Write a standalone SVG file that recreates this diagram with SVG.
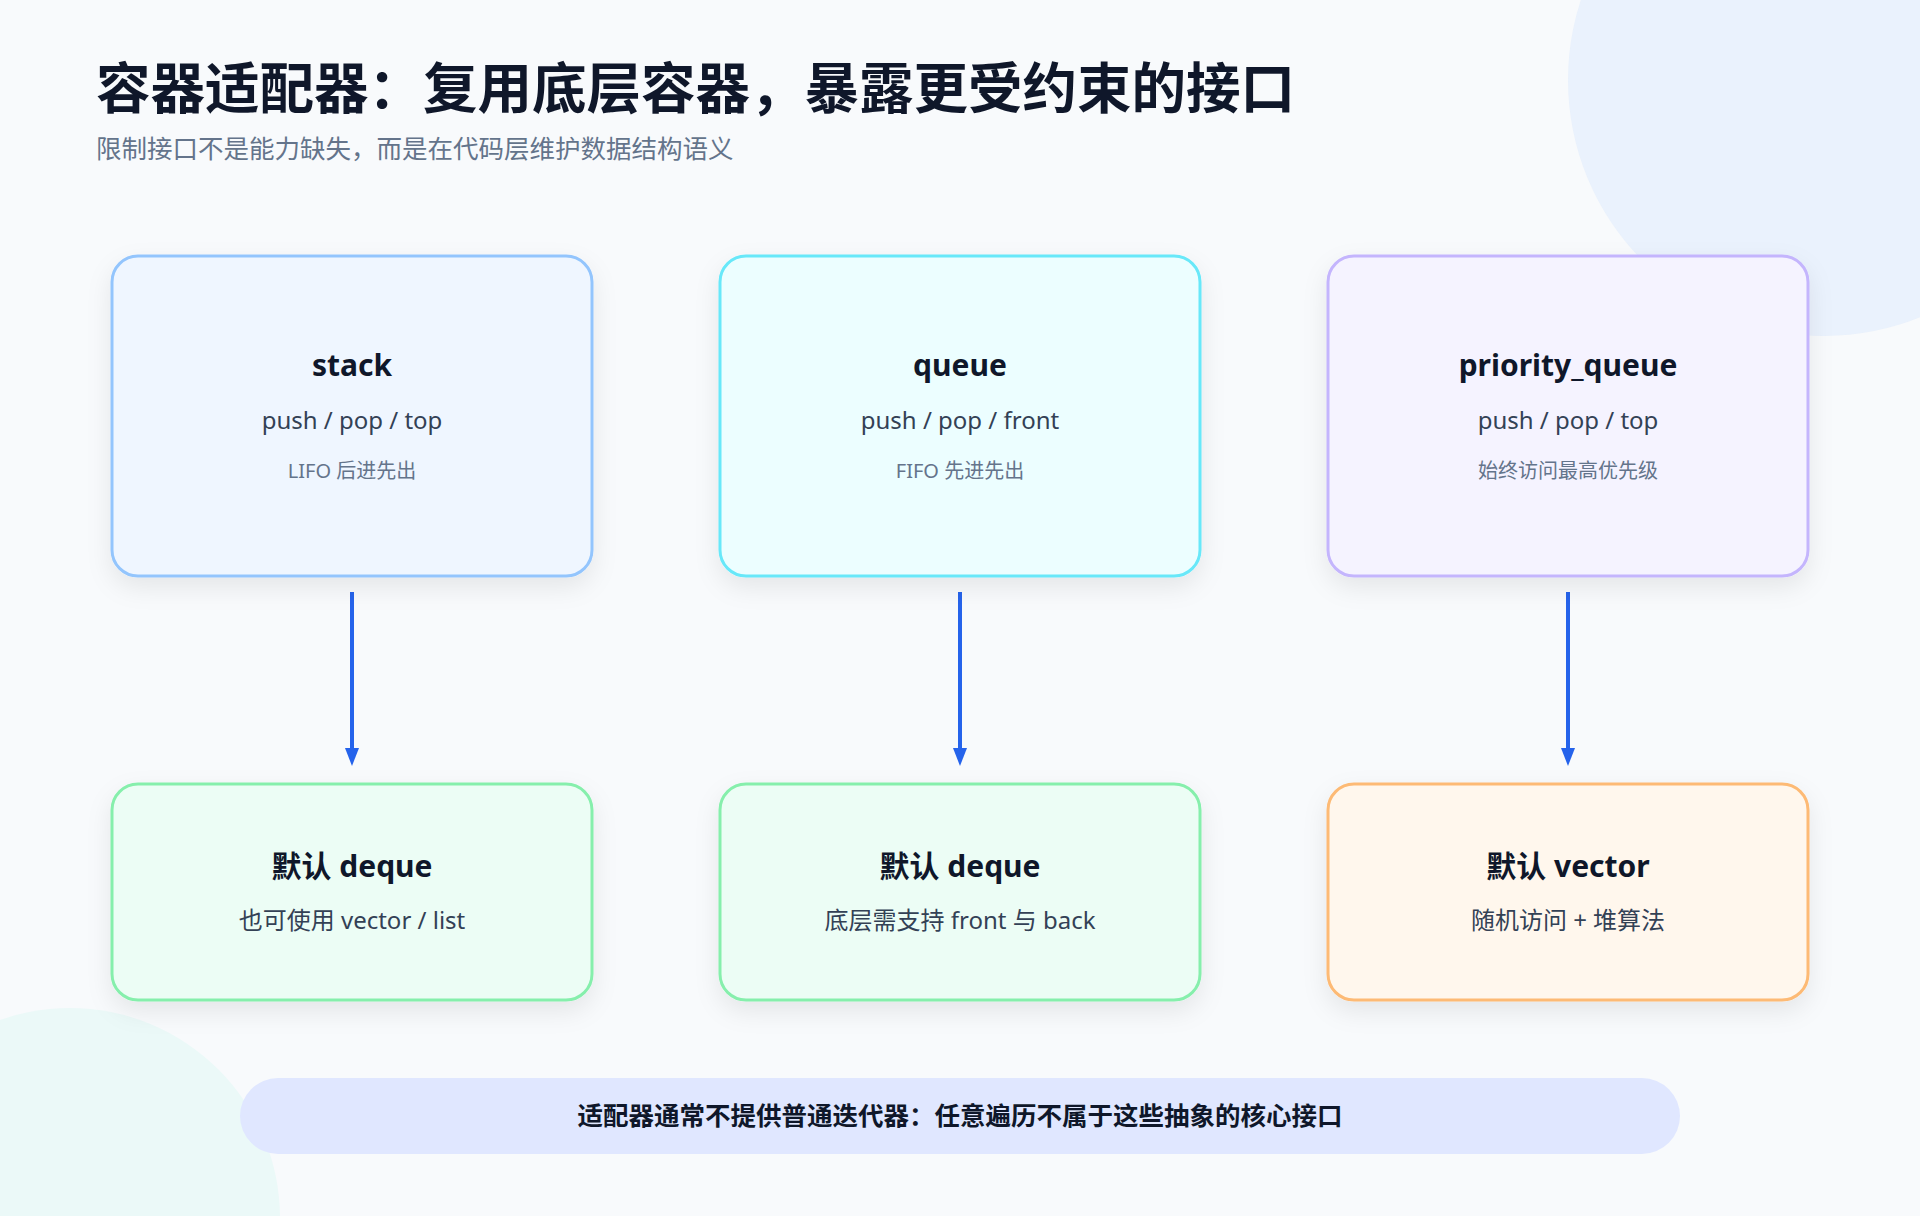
<svg xmlns="http://www.w3.org/2000/svg" width="1920" height="1216" viewBox="0 0 1920 1216">
<defs>
<style>
text{font-family:"Noto Sans","Noto Sans CJK SC",sans-serif;text-anchor:middle}
.h1{font-size:54.5px;font-weight:700;fill:#0f172a;text-anchor:start}
.h2{font-size:25.5px;fill:#64748b;text-anchor:start}
.t{font-size:30px;font-weight:700;fill:#0f172a}
.s{font-size:24px;fill:#334155}
.n{font-size:20px;fill:#64748b}
.box{stroke-width:3}
.conn{stroke:#2563eb;stroke-width:4;fill:none}
.head{fill:#2563eb}
.note{font-size:25.5px;font-weight:700;fill:#0f172a}
</style>
<filter id="sh" x="-20%" y="-20%" width="140%" height="150%">
<feDropShadow dx="0" dy="10" stdDeviation="12" flood-color="#0f172a" flood-opacity="0.08"/>
</filter>
</defs>
<rect width="1920" height="1216" fill="#f8fafc"/>
<circle cx="1824" cy="80" r="256" fill="#dbeafe" opacity="0.5"/>
<circle cx="70" cy="1218" r="210" fill="#ebf9f8"/>

<text class="h1" x="96" y="108">容器适配器：复用底层容器，暴露更受约束的接口</text>
<text class="h2" x="96" y="158">限制接口不是能力缺失，而是在代码层维护数据结构语义</text>

<g id="connectors">
<line class="conn" x1="352" y1="592" x2="352" y2="750"/>
<path class="head" d="M345,748 L359,748 L352,766 Z"/>
<line class="conn" x1="960" y1="592" x2="960" y2="750"/>
<path class="head" d="M953,748 L967,748 L960,766 Z"/>
<line class="conn" x1="1568" y1="592" x2="1568" y2="750"/>
<path class="head" d="M1561,748 L1575,748 L1568,766 Z"/>
</g>

<g id="stack">
<rect class="box" x="112" y="256" width="480" height="320" rx="26" fill="#eff6ff" stroke="#93c5fd" filter="url(#sh)"/>
<text class="t" x="352" y="376">stack</text>
<text class="s" x="352" y="429">push / pop / top</text>
<text class="n" x="352" y="478">LIFO 后进先出</text>
</g>
<g id="queue">
<rect class="box" x="720" y="256" width="480" height="320" rx="26" fill="#ecfeff" stroke="#67e8f9" filter="url(#sh)"/>
<text class="t" x="960" y="376">queue</text>
<text class="s" x="960" y="429">push / pop / front</text>
<text class="n" x="960" y="478">FIFO 先进先出</text>
</g>
<g id="priority_queue">
<rect class="box" x="1328" y="256" width="480" height="320" rx="26" fill="#f5f3ff" stroke="#c4b5fd" filter="url(#sh)"/>
<text class="t" x="1568" y="376">priority_queue</text>
<text class="s" x="1568" y="429">push / pop / top</text>
<text class="n" x="1568" y="478">始终访问最高优先级</text>
</g>
<g id="stack_container">
<rect class="box" x="112" y="784" width="480" height="216" rx="26" fill="#ecfdf5" stroke="#86efac" filter="url(#sh)"/>
<text class="t" x="352" y="877">默认 deque</text>
<text class="s" x="352" y="929">也可使用 vector / list</text>
</g>
<g id="queue_container">
<rect class="box" x="720" y="784" width="480" height="216" rx="26" fill="#ecfdf5" stroke="#86efac" filter="url(#sh)"/>
<text class="t" x="960" y="877">默认 deque</text>
<text class="s" x="960" y="929">底层需支持 front 与 back</text>
</g>
<g id="pq_container">
<rect class="box" x="1328" y="784" width="480" height="216" rx="26" fill="#fff7ed" stroke="#fdba74" filter="url(#sh)"/>
<text class="t" x="1568" y="877">默认 vector</text>
<text class="s" x="1568" y="929">随机访问 + 堆算法</text>
</g>
<g id="note">
<rect x="240" y="1078" width="1440" height="76" rx="38" fill="#e0e7ff"/>
<text class="note" x="960" y="1125">适配器通常不提供普通迭代器：任意遍历不属于这些抽象的核心接口</text>
</g>
</svg>
